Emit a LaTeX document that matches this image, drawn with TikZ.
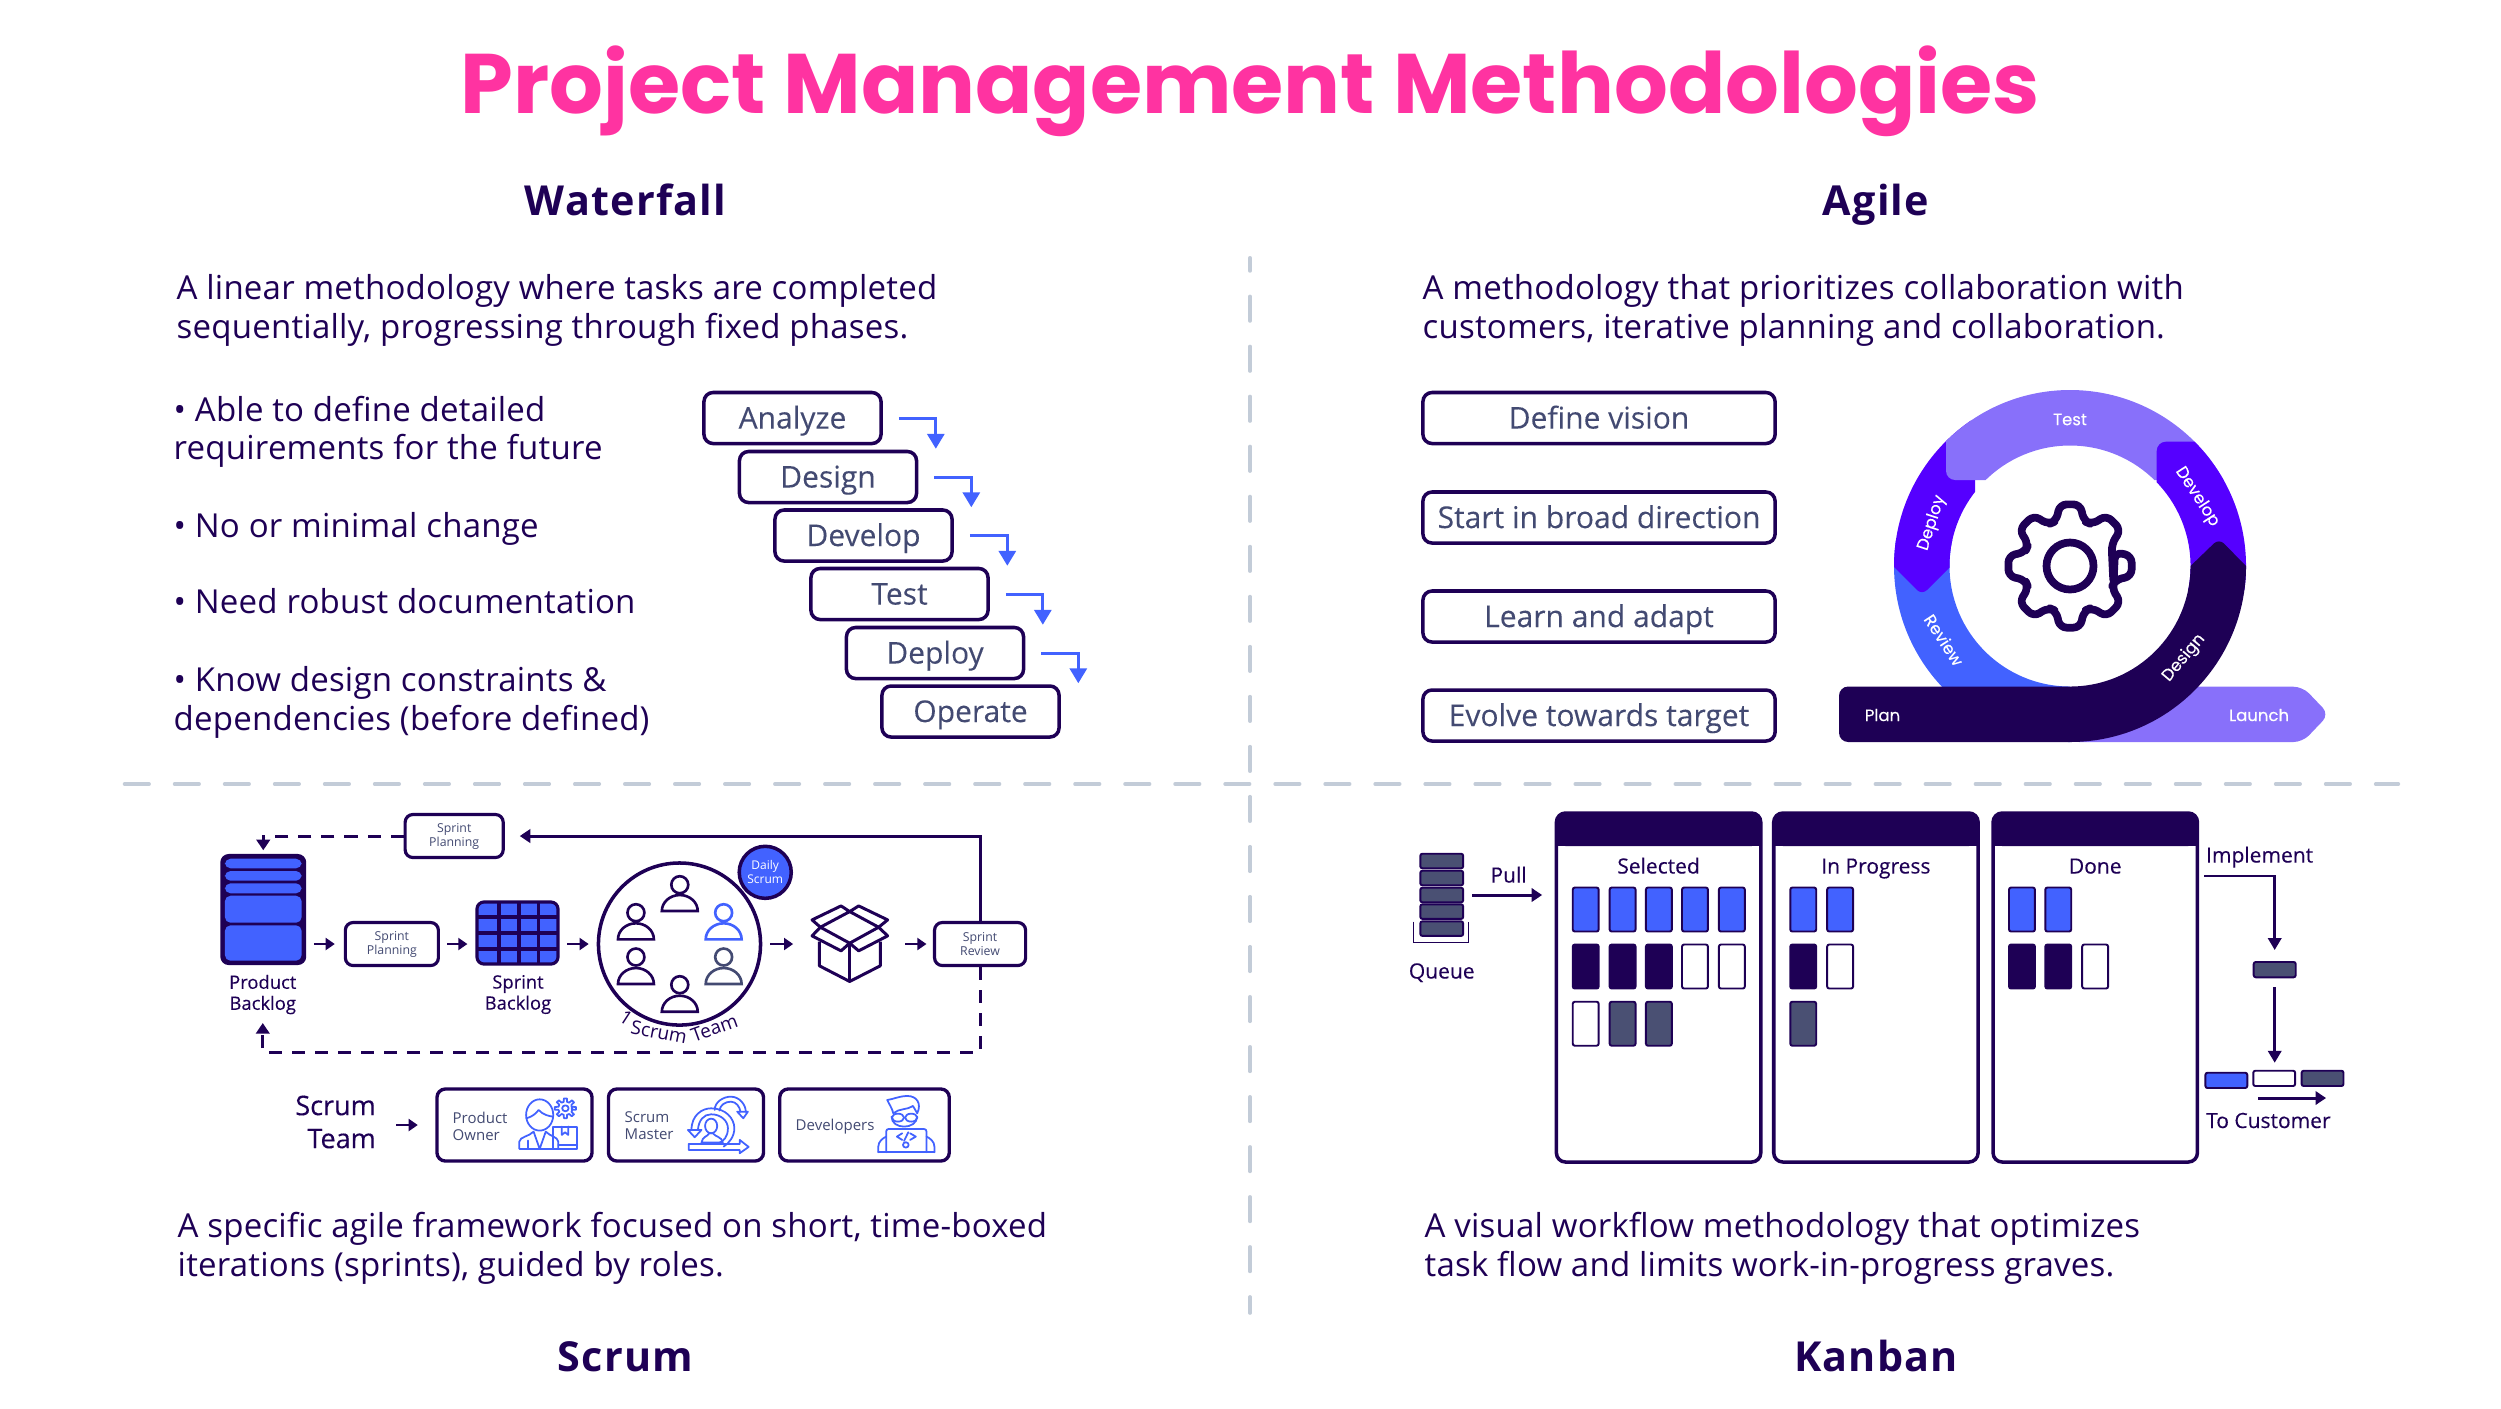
\documentclass[tikz,border=0pt]{standalone}
\usepackage{fontspec}
\usetikzlibrary{arrows.meta,calc}
\setmainfont{Open Sans}
\newfontfamily\pop{Poppins}
\newfontfamily\popm[FakeBold=0.2]{Poppins}
\newfontfamily\osmed[FakeBold=0.25]{Open Sans}
\newfontfamily\osbox[FakeBold=0.1]{Open Sans}
\newfontfamily\osbody[LetterSpace=0.65]{Open Sans}
\newcommand\fpx[2]{\fontsize{\dimexpr#1pt*2845/10000\relax}{\dimexpr#2pt*2845/10000\relax}\selectfont}
\definecolor{dark}{HTML}{1E0055}
\definecolor{slate}{HTML}{434A72}
\definecolor{cardslate}{HTML}{4A5073}
\definecolor{blue}{HTML}{4262FF}
\definecolor{vio}{HTML}{5500FF}
\definecolor{lil}{HTML}{8870FA}
\definecolor{pink}{HTML}{FF33A1}
\definecolor{rule}{HTML}{C3CCD8}
\tikzset{
  titletext/.style={font=\pop\bfseries\fpx{84.5}{90},text=pink,inner sep=0pt},
  headtext/.style={font=\bfseries\fpx{41.3}{44},text=dark,inner sep=0pt,text height=.29cm,text depth=0pt},
  bodytext/.style={font=\osbody\fpx{33}{38.5},text=dark,inner sep=0pt,align=left,anchor=base west},
  stepbox/.style={draw=dark,line width=1pt,rounded corners=2.6pt,fill=white,text=slate,minimum width=1.77cm,minimum height=.51cm,inner sep=0pt,font=\osbox\fpx{30}{31},text height=.21cm,text depth=0pt},
  agilebox/.style={stepbox,minimum width=3.52cm,minimum height=.51cm},
  flowarrow/.style={-{Triangle[length=4.2pt,width=4.8pt]},draw=blue,line width=.85pt},
  shortarrow/.style={-{Triangle[length=2.6pt,width=3.4pt]},draw=dark,line width=.75pt},
  linkarrow/.style={-{Triangle[length=3pt,width=3.8pt]},draw=dark,line width=.85pt},
  dashlink/.style={draw=dark,line width=.85pt,dash pattern=on 3.7pt off 2.85pt},
  divider/.style={draw=rule,line width=1pt,line cap=round,dash pattern=on 7pt off 7.225pt},
  smallbox/.style={draw=dark,line width=.9pt,rounded corners=2.2pt,fill=white,text=slate,align=center,inner sep=0pt,font=\fpx{12.3}{14}},
  grouplabel/.style={font=\osmed\fpx{18.4}{21},text=dark,align=center,inner sep=0pt},
  teamword/.style={font=\fpx{19}{19},text=dark,inner sep=0pt},
  rolebox/.style={draw=dark,line width=.95pt,rounded corners=2.4pt,fill=white,minimum height=.72cm,inner sep=0pt},
  roletext/.style={font=\fpx{15}{17},text=slate,align=left,inner sep=0pt,anchor=west},
  kanbancol/.style={draw=dark,line width=1pt,fill=white},
  kanbantitle/.style={font=\osmed\fpx{21}{24},text=dark,inner sep=0pt,text height=.15cm,text depth=0pt},
  card/.style={line width=.55pt,draw=dark,rounded corners=.6pt},
  iconline/.style={draw=blue,line width=.5pt,line join=round,line cap=round},
  ringtext/.style={font=\popm\fpx{16.5}{18},text=white,inner sep=0pt},
}
\newcommand\person[4]{%x head-y base-y colour
  \draw[#4,line width=.75pt] (#1,#2) circle (8.5);
  \draw[#4,line width=.75pt] (#1-18,#3) arc[start angle=180,end angle=360,x radius=18,y radius=16] -- cycle;}
\newcommand\kcard[3]{\draw[card,fill=#3] (#1,#2) rectangle ++(26,44);}
\newcommand\qcard[4]{\draw[card,fill=#4] (#1,#2) rectangle ++(#3,14.6);}
\begin{document}
\begin{tikzpicture}[x=0.01cm,y=-0.01cm]
\useasboundingbox (0,0) rectangle (2501,1408);
% title and headings
\node[titletext] (title) at (1250,91) {Project Management Methodologies};
\node[headtext] (hwf) at (625.5,201) {\addfontfeature{LetterSpace=3}Waterfall};
\node[headtext] (hag) at (1876,201) {\addfontfeature{LetterSpace=3}Agile};
\node[headtext] (hsc) at (625.5,1357) {\addfontfeature{LetterSpace=3}Scrum};
\node[headtext] (hka) at (1876,1357) {\addfontfeature{LetterSpace=3}Kanban};
% dividers
\draw[divider] (124.5,784) -- (2398.4,784);
\draw[divider,dash phase=3.24pt] (1250,257.75) -- (1250,1313);
% body
\node[bodytext] (twf) at (176,338) {A linear methodology where tasks are completed\\sequentially, progressing through fixed phases.};
\node[bodytext] (tag) at (1422,338.5) {A methodology that prioritizes collaboration with\\customers, iterative planning and collaboration.};
\node[bodytext] (tsc) at (177,1276) {A specific agile framework focused on short, time-boxed\\iterations (sprints), guided by roles.};
\node[bodytext] (tka) at (1424,1276) {A visual workflow methodology that optimizes\\task flow and limits work-in-progress graves.};
\node[bodytext] (b1) at (173,459.5) {• Able to define detailed\\requirements for the future};
\node[bodytext] (b2) at (173,537) {• No or minimal change};
\node[bodytext] (b3) at (173,613.5) {• Need robust documentation};
\node[bodytext] (b4) at (173,730) {• Know design constraints \&\\dependencies (before defined)};
% waterfall
\node[stepbox] (w1) at (792.5,418) {Analyze};
\node[stepbox] (w2) at (828,477) {Design};
\node[stepbox] (w3) at (863.5,535.5) {Develop};
\node[stepbox] (w4) at (899.5,594) {Test};
\node[stepbox] (w5) at (935,653) {Deploy};
\node[stepbox] (w6) at (970.5,711.5) {Operate};
\foreach \a/\b in {w1/w2,w2/w3,w3/w4,w4/w5,w5/w6}
  {\draw[flowarrow] ([shift={(16,0)}]\a.east) -| ([shift={(17.5,-1)}]\b.north east);}
% agile boxes
\node[agilebox] (a1) at (1599,418) {Define vision};
\node[agilebox] (a2) at (1599,517.5) {Start in broad direction};
\node[agilebox] (a3) at (1599,616.5) {Learn and adapt};
\node[agilebox] (a4) at (1599,715.5) {Evolve towards target};
% agile ring
\begin{scope}[shift={(-1,0)}]
\fill[lil,rounded corners=2.6pt] (2071,742) -- (2303.6,742) -- (2330,714.3) -- (2303.6,686.7) -- (2190,686.7) -- cycle;
\begin{scope}[even odd rule]
\clip (2071,566) circle (176) (2071,566) circle (120.5);
\fill[blue] (1880,540) rectangle (2071,750);
\fill[vio,rounded corners=2pt] (1870,542) -- (1923,595) -- (1976,542) -- (1976,420) -- (1870,420) -- cycle;
\fill[lil,rounded corners=2.6pt] (1947,370) rectangle (2270,480);
\fill[vio,rounded corners=2.6pt] (2157.7,441.7) -- (2270,441.7) -- (2270,590) -- (2157.7,590) -- cycle;
\end{scope}
\fill[dark] (2071,686.5) [rounded corners=2.6pt] -- (1840,686.5) -- (1840,742) [sharp corners] -- (2071,742) arc[start angle=90,end angle=0,radius=176] [rounded corners=2pt] -- (2220,538.5) [sharp corners] -- (2191.5,566) arc[start angle=0,end angle=90,radius=120.5] -- cycle;
\node[ringtext] (rtest) at (2071,419.5) {Test};
\node[ringtext,rotate=-57] (rdev) at (2198,497) {Develop};
\node[ringtext,rotate=72] (rdep) at (1933,523) {Deploy};
\node[ringtext,rotate=-57] (rrev) at (1945,640) {Review};
\node[ringtext,rotate=50] (rdes) at (2185,658) {Design};
\node[ringtext] (rplan) at (1883.5,715) {Plan};
\node[ringtext] (rlau) at (2260,715) {Launch};
% gear
\begin{scope}[shift={(2071,566)}]
\draw[dark,line width=2.2pt,line join=round,rounded corners=2pt] (22.5:47)
  \foreach \t in {0,45,...,315} { -- (\t-17:47) -- (\t-9.5:62.5) -- (\t+9.5:62.5) -- (\t+17:47) } -- cycle;
\draw[dark,line width=2.2pt] (0,0) circle (23.5);
\end{scope}
\end{scope}
% scrum flow
\begin{scope}[shift={(0.57,0)},x=0.009962cm]
\node[fill=dark,rounded corners=2.4pt,minimum width=.859cm,minimum height=1.11cm,inner sep=0pt] (pb) at (263.5,909.5) {};
\foreach \ya/\yb in {858.7/868.3,871/880.7,883.3/893.3,895.7/922.7,925.3/960.7}
  {\fill[blue,rounded corners=1.6pt] (225,\ya) rectangle (302,\yb);}
\node[grouplabel] (pbl) at (263,994.5) {Product\\Backlog};
\node[smallbox,minimum width=.93cm,minimum height=.43cm] (sp2) at (392.5,944) {Sprint\\Planning};
\node[smallbox,minimum width=.98cm,minimum height=.43cm] (sp1) at (455,836) {Sprint\\Planning};
\node[smallbox,minimum width=.91cm,minimum height=.43cm] (sr) at (982.5,944) {Sprint\\Review};
\coordinate (pbS) at (263,1023);
\coordinate (loop) at (263,1052);
% sprint backlog
\node[draw=dark,line width=.9pt,fill=blue,rounded corners=2pt,minimum width=.81cm,minimum height=.62cm,inner sep=0pt] (sb) at (518.5,933) {};
\foreach \x in {500,520,539.5} {\draw[dark,line width=.9pt] (\x,902) -- (\x,964);}
\foreach \y in {917,933,949} {\draw[dark,line width=.9pt] (478,\y) -- (559,\y);}
\node[grouplabel] (sbl) at (519,994.5) {Sprint\\Backlog};
% team circle
\node[circle,draw=dark,line width=1pt,minimum size=1.62cm,inner sep=0pt] (team) at (681,944) {};
\person{681.3}{884.7}{911}{dark}
\person{637.3}{912.7}{939.3}{dark}
\person{725.3}{912.7}{939.3}{blue}
\person{637.3}{957}{984}{dark}
\person{725.3}{957}{984}{slate}
\person{681.3}{984.7}{1011.7}{dark}
\node[teamword,rotate=-33] (tw1) at (627.5,1018) {1};
\node[teamword,rotate=-11] (tw2) at (660.5,1032) {Scrum};
\node[teamword,rotate=20] (tw3) at (716,1028) {Team};
\node[circle,draw=dark,line width=1pt,fill=blue,minimum size=.52cm,inner sep=0pt,text=white,align=center,font=\fpx{12}{14}] (daily) at (767,872.3) {Daily\\Scrum};
% cube
\begin{scope}[shift={(592,840)},x=0.003333cm,y=-0.003333cm]
\draw[dark,line width=.85pt,line join=round] (687,305) -- (687,378) -- (778,425) -- (870,378) -- (870,305);
\draw[dark,line width=.85pt] (778,310) -- (778,425);
\draw[dark,line width=.85pt,line join=round] (665,240) -- (752,198) -- (778,215) -- (690,262) -- cycle;
\draw[dark,line width=.85pt,line join=round] (778,215) -- (805,198) -- (892,240) -- (865,262) -- cycle;
\draw[dark,line width=.85pt,line join=round] (690,262) -- (665,288) -- (752,333) -- (778,310) -- cycle;
\draw[dark,line width=.85pt,line join=round] (865,262) -- (892,288) -- (805,333) -- (778,310) -- cycle;
\end{scope}
\coordinate (cubeW) at (795,944);
\coordinate (cubeE) at (907.6,944);
% scrum arrows
\draw[shortarrow] ($(pb.east |- sp2.west)+(7,0)$) -- ($(sp2.west)+(-9,0)$);
\draw[shortarrow] ($(sp2.east)+(7.5,0)$) -- ($(sb.west |- sp2.east)+(-8,0)$);
\draw[shortarrow] ($(sb.east |- team.west)+(7.5,0)$) -- ($(team.west)+(-8,0)$);
\draw[shortarrow] ($(team.east)+(8,0)$) -- (cubeW);
\draw[shortarrow] (cubeE) -- ($(sr.west)+(-6.5,0)$);
\draw[linkarrow] (sr.north) |- ([shift={(15,0)}]sp1.east);
\draw[dashlink,-{Triangle[length=3pt,width=3.8pt]}] (sp1.west) -| ([shift={(0,-3)}]pb.north);
\draw[dashlink,-{Triangle[length=3pt,width=3.8pt]}] (sr.south) |- (loop) -- (pbS);
\end{scope}
% scrum team row
\node[font=\osmed\fpx{27}{33},text=dark,align=right,inner sep=0pt,anchor=east] (st) at (376.5,1122) {Scrum\\Team};
\node[rolebox,minimum width=1.55cm] (po) at (514.5,1125) {};
\node[rolebox,minimum width=1.55cm] (sm) at (686,1125) {};
\node[rolebox,minimum width=1.695cm] (dv) at (864.5,1125) {};
\draw[shortarrow] ($(st.east |- po.west)+(19.5,0)$) -- ($(po.west)+(-17.5,0)$);
\node[roletext] (pot) at (452,1126) {Product\\Owner};
\node[roletext] (smt) at (624,1126) {Scrum\\Master};
\node[roletext] (dvt) at (795,1127) {Developers};
\begin{scope}[shift={(420,1080)},x=0.003569cm,y=-0.003333cm]
% product owner
\draw[iconline] (335,105) ellipse (38 and 47);
\draw[iconline] (298,115) .. controls (315,110) and (325,100) .. (332,90) .. controls (345,105) and (360,108) .. (372,110);
\draw[iconline] (278,207) -- (278,185) .. controls (280,170) and (305,170) .. (318,155) -- (335,207) -- (352,155) .. controls (365,170) and (385,170) .. (387,185) -- (387,207) -- cycle;
\draw[iconline] (303,207) -- (303,182);
\draw[iconline] (372,140) rectangle (440,207);
\draw[iconline] (387,196) -- (440,196);
\draw[iconline] (397,140) -- (397,165) -- (406,157) -- (415,165) -- (415,140);
\begin{scope}[shift={(407,85)}]
\draw[iconline] (22.5:20) \foreach \t in {0,45,...,315} { -- (\t-13:20) -- (\t-8:30) -- (\t+8:30) -- (\t+13:20) } -- cycle;
\draw[iconline] (0,0) circle (9);
\end{scope}
% scrum master
\draw[iconline] (760,150) .. controls (760,105) and (790,85) .. (815,85) .. controls (855,85) and (880,115) .. (880,145) .. controls (880,170) and (865,190) .. (850,200);
\draw[iconline] (778,150) .. controls (780,120) and (795,103) .. (815,103) .. controls (845,103) and (862,125) .. (862,145) .. controls (862,170) and (850,185) .. (835,190);
\draw[iconline] (750,150) -- (788,150) -- (769,172) -- cycle;
\draw[iconline] (825,90) .. controls (825,65) and (850,50) .. (870,50) .. controls (895,50) and (912,75) .. (912,95);
\draw[iconline] (838,92) .. controls (840,75) and (855,65) .. (870,65) .. controls (885,65) and (895,80) .. (897,95);
\draw[iconline] (888,95) -- (918,95) -- (905,115) -- cycle;
\draw[iconline] (815,138) ellipse (17 and 22);
\draw[iconline] (788,188) .. controls (790,170) and (805,170) .. (810,160) -- (820,160) .. controls (825,170) and (845,170) .. (848,188) -- cycle;
\draw[iconline] (752,192) -- (895,192) -- (895,180) -- (920,201) -- (895,220) -- (895,210) -- (752,210) -- cycle;
% developer
\draw[iconline] (1320,110) .. controls (1320,150) and (1390,150) .. (1392,110);
\draw[iconline] (1325,100) .. controls (1322,85) and (1312,70) .. (1308,60) .. controls (1325,58) and (1340,48) .. (1365,48) .. controls (1390,48) and (1405,70) .. (1392,100) -- (1380,78) .. controls (1365,90) and (1340,85) .. (1325,100);
\draw[iconline] (1338,113) ellipse (17 and 12);
\draw[iconline] (1375,113) ellipse (17 and 12);
\draw[iconline] (1305,217) -- (1305,155) .. controls (1305,150) and (1308,147) .. (1312,147) -- (1410,147) .. controls (1415,147) and (1418,150) .. (1418,155) -- (1418,217);
\draw[iconline] (1283,217) -- (1283,200) .. controls (1283,185) and (1295,175) .. (1305,170);
\draw[iconline] (1440,217) -- (1440,200) .. controls (1440,185) and (1428,175) .. (1418,170);
\draw[iconline] (1283,217) -- (1440,217);
\draw[iconline] (1350,160) -- (1335,170) -- (1350,180);
\draw[iconline] (1372,160) -- (1388,170) -- (1372,180);
\draw[iconline] (1367,157) -- (1355,183);
\draw[iconline] (1360,195) circle (8);
\end{scope}
% kanban
\begin{scope}[shift={(5.14,0)},x=0.009963cm]
\foreach \n/\xa/\xb/\lab in {kc1/1556/1761/Selected,kc2/1774/1979/In Progress,kc3/1994/2199/Done}{
  \draw[kanbancol,rounded corners=2.6pt] (\xa,813) rectangle (\xb,1162);
  \fill[dark,rounded corners=2.6pt] (\xa,813) -- (\xb,813) -- (\xb,846) -- (\xa,846) -- cycle;
  \fill[dark] (\xa,830) rectangle (\xb,846);
  \node[kanbantitle] (\n) at ({(\xa+\xb)/2},866) {\lab};
}
\foreach \x in {1572.4,1609.4,1645.8,1682,1719} {\kcard{\x}{887.5}{blue}}
\foreach \x in {1572.4,1609.4,1645.8} {\kcard{\x}{944.5}{dark}}
\foreach \x in {1682,1719} {\kcard{\x}{944.5}{white}}
\kcard{1572.4}{1001.7}{white}
\foreach \x in {1609.4,1645.8} {\kcard{\x}{1001.7}{cardslate}}
\foreach \x in {1790.6,1827.6} {\kcard{\x}{887.5}{blue}}
\kcard{1790.6}{944.5}{dark}
\kcard{1827.6}{944.5}{white}
\kcard{1790.6}{1001.7}{cardslate}
\foreach \x in {2010,2046.4} {\kcard{\x}{887.5}{blue}}
\foreach \x in {2010,2046.4} {\kcard{\x}{944.5}{dark}}
\kcard{2083.4}{944.5}{white}
\foreach \y in {853.7,870.7,887.7,904.3,921.3} {\qcard{1419.5}{\y}{43}{cardslate}}
\draw[dark,line width=.35pt] (1413,921.7) -- (1413,942.3) -- (1468,942.3) -- (1468,921.7);
\node[kanbantitle] (qlab) at (1441,971) {Queue};
\node[kanbantitle] (plab) at (1508,875) {Pull};
\coordinate (qE) at (1471.5,895);
\coordinate (colW) at (1541.7,895);
\draw[linkarrow] (qE) -- (colW);
\node[kanbantitle,anchor=west] (impl) at (2207,855) {Implement};
\node[card,fill=cardslate,minimum width=.42cm,minimum height=.153cm,inner sep=0pt] (small) at (2276.5,969.6) {};
\coordinate (implS) at (2206,876);
\draw[-{Triangle[length=3.4pt,width=3.8pt]},draw=dark,line width=.75pt] (implS) -| ([shift={(0,-11)}]small.north);
\coordinate (rowT) at (2276.5,1062.7);
\draw[-{Triangle[length=3.4pt,width=3.8pt]},draw=dark,line width=.75pt] ([shift={(0,9)}]small.south) -- (rowT);
\draw[card,fill=blue] (2207,1072.7) rectangle (2249,1088);
\draw[card,fill=white] (2255,1070.7) rectangle (2297,1086);
\draw[card,fill=cardslate] (2303.5,1070.7) rectangle (2345.5,1086);
\coordinate (cA) at (2260,1098);
\coordinate (cB) at (2328,1098);
\draw[linkarrow] (cA) -- (cB);
\node[kanbantitle,anchor=west] (cust) at (2207,1120.5) {To Customer};
\end{scope}
\end{tikzpicture}
\end{document}
